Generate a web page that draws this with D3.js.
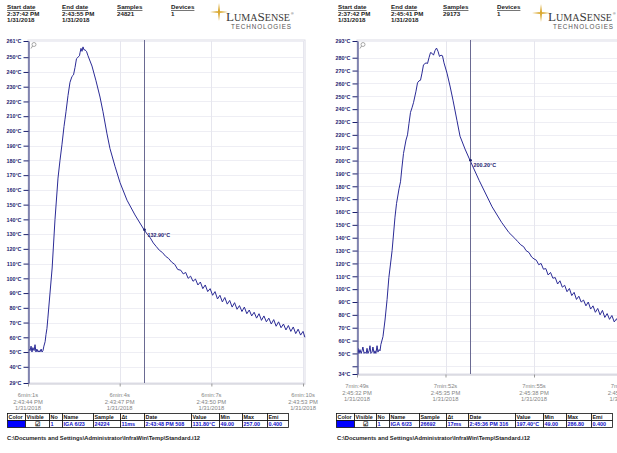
<!DOCTYPE html>
<html>
<head>
<meta charset="utf-8">
<script src="https://cdn.jsdelivr.net/npm/d3@7"></script>
<style>
  body { margin: 0; background: #fff; }
  svg { display: block; font-family: "Liberation Sans", Arial, sans-serif; }
</style>
</head>
<body>
<svg id="chart" width="617" height="453"></svg>
<script>
// ---- data ----
// left recording: seconds after 6min:0s, temperature in °C
const leftTime = [1.00,1.03,1.07,1.10,1.13,1.16,1.20,1.23,1.26,1.29,1.33,1.36,1.39,1.43,1.46,1.49,1.52,1.56,1.59,1.62,1.65,1.72,1.79,
  1.884,1.982,2.047,2.113,2.178,2.211,2.243,2.309,2.374,2.440,2.489,2.538,2.587,2.636,2.685,2.702,2.734,2.767,2.800,2.832,2.865,2.914,2.963,
  3.094,3.225,3.356,3.454,3.585,3.683,3.847,4.010,4.240,4.501,4.796,4.90,5.00,5.10,5.20,5.30,5.40,5.50,5.60,5.70,5.80,5.90,
  6.00,6.08,6.16,6.24,6.32,6.40,6.48,6.56,6.64,6.72,6.80,6.88,6.96,7.04,7.12,7.20,7.28,7.36,7.44,7.52,7.60,7.68,7.76,7.84,7.92,
  8.00,8.08,8.16,8.24,8.32,8.40,8.48,8.56,8.64,8.72,8.80,8.88,8.96,9.04,9.12,9.20,9.28,9.36,9.44,9.52,9.60,9.68,9.76,9.84,9.92,10.00,10.06];
const leftTemp = [50,52,51,54,50,53,51,55,50,52,50,51,50,52,50,51,54,57,62,66,73,90,107,
  140,168,180,191,203,208,213,224,233,237,238,243,249,250,251,253,256,254,257,255,255,254,251,
  244,234,223,213,198,188,176,165,153,143,133,130,127.5,124,121.5,119,117.5,115,113.5,111,109.5,106,
  105.5,103,104,100,101.5,98,99.5,95.5,97.5,93,95.5,91,93,88.5,91,86,88.5,84,87,82.5,85,80.5,83.5,79,81.5,
  77.5,80.5,76,78.5,74.5,77,73,76,71.5,74.5,70.5,73,69,72,67.5,70.5,66.5,69,65,68,64,67,62.5,65.5,61.5,64,60];

// right recording: seconds after 7min:0s, temperature in °C
const rightTime = [49.00,49.03,49.07,49.10,49.14,49.17,49.20,49.24,49.27,49.31,49.34,49.37,49.41,49.44,49.47,49.51,49.54,49.58,49.61,49.64,
  49.68,49.71,49.75,49.78,49.81,49.88,49.95,50.02,50.08,50.19,50.288,50.339,50.424,50.475,50.525,50.576,50.661,50.712,50.763,50.814,
  50.864,50.915,51.000,51.051,51.102,51.153,51.203,51.254,51.339,51.390,51.441,51.492,51.542,51.593,51.644,51.695,51.746,51.797,51.847,
  51.898,51.949,52.051,52.153,52.254,52.390,52.492,52.661,52.831,53.14,53.58,53.90,54.15,54.35,54.45,54.55,54.65,54.73,54.83,54.92,
  55.00,55.08,55.16,55.24,55.32,55.40,55.48,55.56,55.64,55.72,55.80,55.88,55.96,56.04,56.12,56.20,56.28,56.36,56.44,56.52,56.60,
  56.68,56.76,56.84,56.92,57.00,57.08,57.16,57.24,57.32,57.40,57.48,57.56,57.64,57.72,57.80,57.88,57.96,58.05,58.13,58.21,58.30,58.40,58.50,58.56];
const rightTemp = [51,54,50,53,50,52,55,50,51,50,54,50,52,56,50,51,55,50,52,50,
  56,51,53,52,57,63,76,92,109,130,156,166.5,178,183.5,195,205.5,216,220,229,237.5,
  241,245,254,260.5,262,262.5,268,274.5,276,275.5,280,284,283.5,282,285.5,287.5,285,281,282,
  281.5,276,268,258,247,231,219,209,200.2,184.6,164,152,144,139.5,137,134.5,133,130,128.5,125,
  123.5,122.5,119,120,115.5,116,111,113,108.5,109,104,106.5,101.5,103,98,100.5,95,97.5,92,94.5,90,
  91.5,87,90,84.5,87,82,85,80,83.5,78,81,76.5,79.5,74.5,77,72.5,75,71,73.5,69.5,72,68,70,67];

// axis ticks
const leftYTicks = [29,40,50,60,70,80,90,100,110,120,130,140,150,160,170,180,190,200,210,220,230,240,250,261];
const rightYTicks = [34,40,50,60,70,80,90,100,110,120,130,140,150,160,170,180,190,200,210,220,230,240,250,260,270,280,293];
const rightYHidden = [40];
const leftXTicks = [1,4,7,10];
const leftXElapsed = ["6min:1s","6min:4s","6min:7s","6min:10s"];
const leftXClock = ["2:43:44 PM","2:43:47 PM","2:43:50 PM","2:43:53 PM"];
const rightXTicks = [49,52,55,58];
const rightXElapsed = ["7min:49s","7min:52s","7min:55s","7min:58s"];
const rightXClock = ["2:45:32 PM","2:45:35 PM","2:45:38 PM","2:45:41 PM"];
const xDate = "1/31/2018";

// header blocks
const leftHeader = [["Start date","2:37:42 PM","1/31/2018"],["End date","2:43:55 PM","1/31/2018"],["Samples","24821"],["Devices","1"]];
const rightHeader = [["Start date","2:37:42 PM","1/31/2018"],["End date","2:45:41 PM","1/31/2018"],["Samples","29173"],["Devices","1"]];

// cursors
const leftCursor = { t: 4.796, value: 132.9, label: "132.90°C" };
const rightCursor = { t: 52.82, value: 200.2, label: "200.20°C" };

// cursor tables
const tableCols = ["Color","Visible","No","Name","Sample","\u0394t","Date","Value","Min","Max","Emi"];
const leftRow = ["","\u2611","1","IGA 6/23","24224","11ms","2:43:48 PM 508","131.80°C","49.00","257.00","0.400"];
const rightRow = ["","\u2611","1","IGA 6/23","26692","17ms","2:45:36 PM 316","197.40°C","49.00","286.80","0.400"];
const filePath = "C:\\Documents and Settings\\Administrator\\InfraWin\\Temp\\Standard.i12";

const svg = d3.select('#chart');
svg.append('rect').attr('width', 617).attr('height', 453).attr('fill', '#fff');

const navy = '#1d2270';
const lineColor = '#2b2b96';

function drawHeader(items, xs) {
  items.forEach((col, i) => {
    col.forEach((txt, j) => {
      svg.append('text')
        .attr('x', xs[i]).attr('y', 9 + j * 6.5)
        .attr('font-size', 6.2).attr('font-weight', 'bold').attr('fill', '#222')
        .style('text-decoration', j === 0 ? 'underline' : 'none')
        .text(txt);
    });
  });
}

function drawLogo(cx, cy, tx) {
  const a = 9, b = 9, w = 1.1;
  svg.append('path')
    .attr('d', `M${cx - a},${cy} L${cx},${cy - w} L${cx + a},${cy} L${cx},${cy + w} Z M${cx},${cy - b} L${cx + w},${cy} L${cx},${cy + b} L${cx - w},${cy} Z`)
    .attr('fill', '#d9a62a');
  const t = svg.append('text').attr('x', tx).attr('y', 21)
    .attr('font-family', '"Liberation Serif", serif').attr('fill', '#3a3a3a')
    .attr('textLength', 64).attr('lengthAdjust', 'spacingAndGlyphs');
  t.append('tspan').attr('font-size', 13).text('L');
  t.append('tspan').attr('font-size', 10).text('UMA');
  t.append('tspan').attr('font-size', 13).text('S');
  t.append('tspan').attr('font-size', 10).text('ENSE');
  svg.append('text').attr('x', tx + 65).attr('y', 15).attr('font-size', 3.5).attr('fill', '#3a3a3a').text('®');
  svg.append('text').attr('x', tx + 5).attr('y', 29)
    .attr('font-size', 6.3).attr('fill', '#555')
    .attr('textLength', 60).attr('lengthAdjust', 'spacing')
    .text('TECHNOLOGIES');
}

function drawPanel(cfg, id) {
  const x = d3.scaleLinear().domain(cfg.tDomain).range([cfg.x0, cfg.x1]);
  const y = d3.scaleLinear().domain(cfg.yDomain).range([cfg.yBottom, cfg.yTop]);
  const g = svg.append('g');

  g.append('rect')
    .attr('x', cfg.x0).attr('y', cfg.yTop - 1)
    .attr('width', cfg.x1 - cfg.x0).attr('height', cfg.yBottom - cfg.yTop + 1)
    .attr('fill', '#fff').attr('stroke', '#dcdce6');

  // grid
  g.append('g').selectAll('line').data(cfg.yTicks).join('line')
    .attr('x1', cfg.x0).attr('x2', cfg.x1)
    .attr('y1', d => Math.round(y(d)) + 0.5).attr('y2', d => Math.round(y(d)) + 0.5)
    .attr('stroke', '#eeeef4');
  g.append('g').selectAll('line').data(cfg.xTicks).join('line')
    .attr('x1', d => Math.round(x(d)) + 0.5).attr('x2', d => Math.round(x(d)) + 0.5)
    .attr('y1', cfg.yTop).attr('y2', cfg.yBottom)
    .attr('stroke', '#e6e6ee');

  // x axis
  const xAxis = d3.axisBottom(x).tickValues(cfg.xTicks).tickSize(3).tickSizeOuter(0).tickFormat('');
  const xg = g.append('g').attr('transform', `translate(0,${cfg.yBottom + 0.5})`).call(xAxis);
  xg.select('.domain').attr('stroke', '#c8c8d2');
  xg.selectAll('.tick line').attr('stroke', '#999');
  cfg.xTicks.forEach((d, i) => {
    [cfg.xElapsed[i], cfg.xClock[i], xDate].forEach((s, j) => {
      g.append('text')
        .attr('x', x(d)).attr('y', cfg.yBottom + 14 + j * 6.5)
        .attr('text-anchor', 'middle').attr('font-size', 5.8).attr('fill', '#858585')
        .text(s);
    });
  });

  // y axis
  const yAxis = d3.axisLeft(y).tickValues(cfg.yTicks).tickSize(5).tickSizeOuter(0).tickPadding(2)
    .tickFormat(d => cfg.yHidden.includes(d) ? '' : d + '°C');
  const yg = g.append('g').attr('transform', `translate(${cfg.x0 + 0.5},0)`).call(yAxis);
  yg.select('.domain').attr('stroke', navy);
  yg.selectAll('.tick line').attr('stroke', navy);
  yg.selectAll('.tick text').attr('font-size', 5.4).attr('font-weight', 'bold').attr('fill', navy)
    .attr('font-family', '"Liberation Sans", Arial, sans-serif');

  // little zoom icon at top left of plot
  g.append('circle').attr('cx', cfg.x0 + 6).attr('cy', cfg.yTop + 3.5).attr('r', 2)
    .attr('fill', 'none').attr('stroke', '#888').attr('stroke-width', 0.7);
  g.append('line').attr('x1', cfg.x0 + 4.6).attr('y1', cfg.yTop + 5).attr('x2', cfg.x0 + 3).attr('y2', cfg.yTop + 7.5)
    .attr('stroke', '#888').attr('stroke-width', 0.8);

  // curve
  g.append('clipPath').attr('id', id).append('rect')
    .attr('x', cfg.x0 + 1).attr('y', cfg.yTop).attr('width', cfg.x1 - cfg.x0).attr('height', cfg.yBottom - cfg.yTop);
  const line = d3.line().x((d, i) => x(cfg.time[i])).y(d => y(d));
  g.append('path').datum(cfg.temp)
    .attr('clip-path', `url(#${id})`)
    .attr('d', line)
    .attr('fill', 'none').attr('stroke', lineColor).attr('stroke-width', 1).attr('stroke-linejoin', 'round');

  // cursor
  const cx = Math.round(x(cfg.cursor.t)) + 0.5;
  g.append('line').attr('x1', cx).attr('x2', cx).attr('y1', cfg.yTop - 1).attr('y2', cfg.yBottom)
    .attr('stroke', '#6a6a92').attr('stroke-width', 1);
  g.append('circle').attr('cx', cx).attr('cy', y(cfg.cursor.value)).attr('r', 1.4).attr('fill', navy);
  g.append('text').attr('x', cx + 3).attr('y', y(cfg.cursor.value) + 7)
    .attr('font-size', 5.4).attr('font-weight', 'bold').attr('fill', navy)
    .text(cfg.cursor.label);
}

function drawTable(row, edges, top) {
  const h = 7;
  tableCols.forEach((c, i) => {
    const x0 = edges[i], w = edges[i + 1] - edges[i];
    svg.append('rect').attr('x', x0 + 0.5).attr('y', top + 0.5).attr('width', w).attr('height', h)
      .attr('fill', '#fff').attr('stroke', '#111').attr('stroke-width', 0.8);
    svg.append('rect').attr('x', x0 + 0.5).attr('y', top + h + 0.5).attr('width', w).attr('height', h)
      .attr('fill', i === 0 ? '#0000ff' : '#fff').attr('stroke', '#111').attr('stroke-width', 0.8);
    svg.append('text').attr('x', x0 + 1.5).attr('y', top + 5.6)
      .attr('font-size', 5.4).attr('font-weight', 'bold').attr('fill', '#111').text(c);
    if (row[i]) {
      svg.append('text')
        .attr('x', i === 1 ? x0 + w / 2 : x0 + 1.5).attr('y', top + h + 5.8)
        .attr('text-anchor', i === 1 ? 'middle' : 'start')
        .attr('font-size', i === 1 ? 6 : 5.4).attr('font-weight', 'bold')
        .attr('fill', i === 1 ? '#111' : '#1010c8').text(row[i]);
    }
  });
}

drawHeader(leftHeader, [7, 62, 117, 171]);
drawHeader(rightHeader, [338, 391, 443, 497]);
drawLogo(219, 12, 226);
drawLogo(541, 13, 548);

drawPanel({
  x0: 28, x1: 305, yTop: 41, yBottom: 383,
  tDomain: [1, 10.064], yDomain: [29, 261],
  yTicks: leftYTicks, yHidden: [],
  xTicks: leftXTicks, xElapsed: leftXElapsed, xClock: leftXClock,
  time: leftTime, temp: leftTemp, cursor: leftCursor
}, 'clipL');

drawPanel({
  x0: 357, x1: 640, yTop: 41, yBottom: 374,
  tDomain: [49, 49 + 283 / 29.5], yDomain: [34, 293],
  yTicks: rightYTicks, yHidden: rightYHidden,
  xTicks: rightXTicks, xElapsed: rightXElapsed, xClock: rightXClock,
  time: rightTime, temp: rightTemp, cursor: rightCursor
}, 'clipR');

drawTable(leftRow, [7, 25, 49, 62, 93, 120, 144, 191, 219, 242, 267, 288], 413);
drawTable(rightRow, [336, 354, 376, 389, 419, 446, 468, 515, 543, 566, 591, 612], 413);

svg.append('text').attr('x', 7).attr('y', 440).attr('font-size', 5.8).attr('font-weight', 'bold').attr('fill', '#222').text(filePath);
svg.append('text').attr('x', 337).attr('y', 440).attr('font-size', 5.8).attr('font-weight', 'bold').attr('fill', '#222').text(filePath);
</script>
</body>
</html>
